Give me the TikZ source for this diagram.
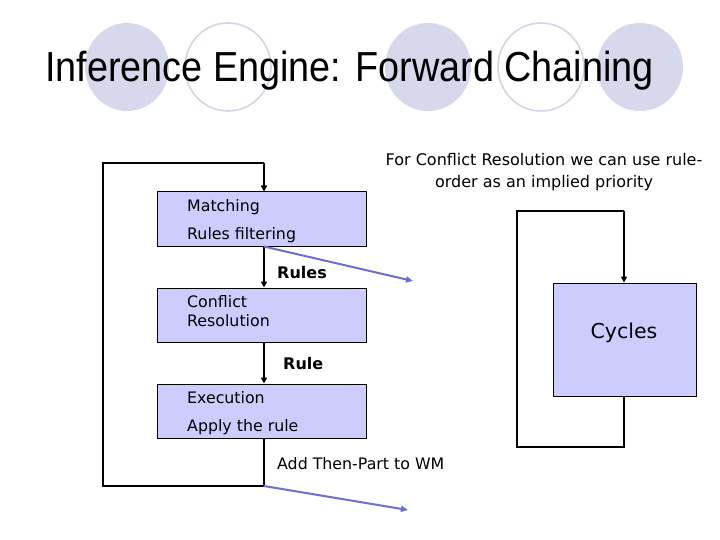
\documentclass[tikz,border=0pt]{standalone}
\usepackage{fontspec}
\setmainfont{DejaVu Sans}
\newfontfamily\titlefont[FakeStretch=0.9]{Liberation Sans}
\usetikzlibrary{arrows.meta}
\definecolor{boxfill}{RGB}{204,204,255}
\definecolor{deco}{RGB}{216,216,236}
\definecolor{decoline}{RGB}{212,212,234}
\definecolor{bluearrow}{RGB}{110,110,210}
\tikzset{
  procbox/.style={draw=black, line width=1pt, fill=boxfill, inner sep=0pt},
  boxtext/.style={anchor=west, inner sep=0pt, font=\fontsize{15.8}{18}\selectfont},
  flowlabel/.style={anchor=west, inner sep=0pt, font=\fontsize{16}{18}\selectfont\bfseries},
  loopline/.style={draw=black, line width=1.2pt},
  flowarrow/.style={draw=black, line width=2pt, -{Triangle[length=6pt,width=6pt]}},
  bluearr/.style={draw=bluearrow, line width=2pt, -{Triangle[length=7pt,width=6pt]}},
  decofill/.style={fill=deco, draw=none},
  decoring/.style={draw=decoline, line width=1.6pt, fill=none},
}
\begin{document}
\begin{tikzpicture}[x=1pt,y=-1pt]
\useasboundingbox (0,0) rectangle (720,540);
\fill[white] (0,0) rectangle (720,540);
% title decoration
\path[decofill] (127,67) ellipse [x radius=42, y radius=44];
\path[decoring] (228,67) ellipse [x radius=43, y radius=44];
\path[decofill] (428,67) ellipse [x radius=43, y radius=44];
\path[decoring] (541,67) ellipse [x radius=43, y radius=44];
\path[decofill] (640,67) ellipse [x radius=43, y radius=44];
\node[anchor=base west, inner sep=0pt, font=\titlefont\fontsize{42}{48}\selectfont] (title) at (45,82) {Inference Engine: Forward Chaining};
% left boxes
\node[procbox, minimum width=209pt, minimum height=54pt] (b1) at (261.5,219) {};
\node[procbox, minimum width=209pt, minimum height=54pt] (b2) at (261.5,315) {};
\node[procbox, minimum width=209pt, minimum height=54pt] (b3) at (261.5,411) {};
\node[boxtext] (t1a) at (187,207) {Matching};
\node[boxtext] (t1b) at (187,235) {Rules filtering};
\node[boxtext] (t2a) at (187,302) {Conflict};
\node[boxtext] (t2b) at (187,321) {Resolution};
\node[boxtext] (t3a) at (187,398) {Execution};
\node[boxtext] (t3b) at (187,427) {Apply the rule};
\node[flowlabel] (lrules) at (277,273) {Rules};
\node[flowlabel] (lrule) at (283,364) {Rule};
\node[boxtext] (ladd) at (277,464) {Add Then-Part to WM};
% loop coordinates
\coordinate (lt) at (264,163);
\coordinate (ltl) at (103,163);
\coordinate (lbl) at (103,486);
\coordinate (lb) at (264,486);
\draw[loopline] (b3.south -| lt) -- (lb) -- (lbl) -- (ltl) -- (lt);
\draw[flowarrow] (lt) -- (b1.north -| lt);
\draw[flowarrow] (b1.south -| lt) -- (b2.north -| lt);
\draw[flowarrow] (b2.south -| lt) -- (b3.north -| lt);
\coordinate (be1) at (413,281);
\coordinate (be2) at (408,510);
\draw[bluearr] (b1.south -| lt) -- (be1);
\draw[bluearr] (lb) -- (be2);
% right part
\node[align=center, inner sep=0pt, font=\fontsize{16}{22}\selectfont] (note) at (544,172) {For Conflict Resolution we can use rule-\\order as an implied priority};
\node[procbox, minimum width=143pt, minimum height=113pt] (cyc) at (624.5,339.5) {};
\node[inner sep=0pt, font=\fontsize{20.5}{24}\selectfont] (cyctext) at (624,333) {Cycles};
\coordinate (rt) at (624,211);
\coordinate (rtl) at (517,211);
\coordinate (rbl) at (517,447);
\coordinate (rb) at (624,447);
\draw[loopline] (cyc.south -| rt) -- (rb) -- (rbl) -- (rtl) -- (rt);
\draw[flowarrow] (rt) -- (cyc.north -| rt);
\end{tikzpicture}
\end{document}
